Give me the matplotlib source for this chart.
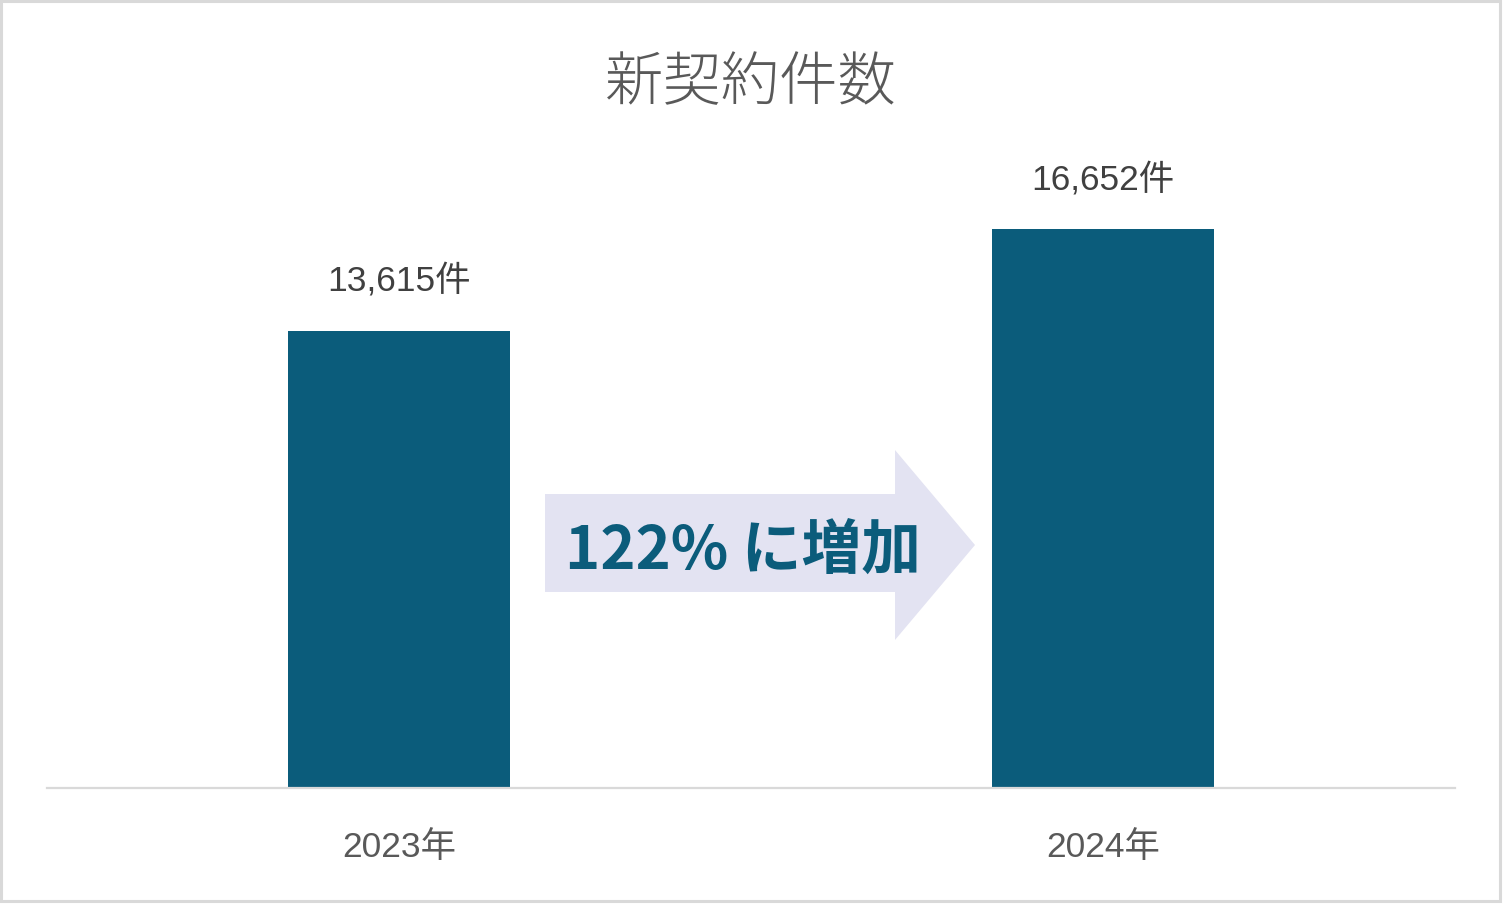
import matplotlib
matplotlib.use("Agg")
import matplotlib.pyplot as plt
from matplotlib.patches import Polygon, Rectangle

categories = ["2023年", "2024年"]
values = [13615, 16652]
value_labels = ["13,615件", "16,652件"]
title = "新契約件数"
callout = "122% に増加"

W, H = 1503, 914
fig = plt.figure(figsize=(W / 100, H / 100), dpi=100)
fig.patch.set_facecolor("white")

def fx(px):
    return px / W

def fy(py):
    return 1 - py / H

ax = fig.add_axes([fx(47), fy(788), fx(1455) - fx(47), fy(140) - fy(788)])
ymax = 648 / (457 / 13615)
ax.set_xlim(-0.5, 1.5)
ax.set_ylim(0, ymax)
x = range(len(categories))
ax.bar(x, values, width=0.314, color="#0B5C7B", zorder=2)
for s in ["top", "right", "left"]:
    ax.spines[s].set_visible(False)
ax.spines["bottom"].set_color("#D9D9D9")
ax.spines["bottom"].set_linewidth(1.6)
ax.set_yticks([])
ax.set_xticks(list(x))
ax.set_xticklabels(categories, family=["Liberation Sans", "Noto Sans CJK JP"],
                   fontsize=25.5, color="#595959")
ax.tick_params(axis="x", length=0, pad=31)
ax.patch.set_alpha(0)

for xi, v, lab in zip(x, values, value_labels):
    ax.annotate(lab, (xi, v), xytext=(0, 50), textcoords="offset pixels",
                ha="center", va="center", fontsize=25.5, color="#404040",
                family=["Liberation Sans", "Noto Sans CJK JP"])

fig.text(fx(751), fy(84), title, ha="center", va="center", fontsize=42,
         color="#595959", family=["Noto Sans CJK JP"], fontweight="light")

# arrow callout
pts = [(545, 494), (895, 494), (895, 450), (975, 545), (895, 640), (895, 592), (545, 592)]
arrow = Polygon([(fx(px), fy(py)) for px, py in pts], closed=True,
                transform=fig.transFigure, facecolor="#E3E3F2", edgecolor="none", zorder=3)
fig.add_artist(arrow)
fig.text(fx(743), fy(552), callout, ha="center", va="center", fontsize=43,
         color="#0B5C7B", family=["Noto Sans CJK JP"], fontweight="bold", zorder=4)

# frame
frame = Rectangle((fx(1), fy(901)), fx(1500) - fx(1), fy(1) - fy(901),
                  transform=fig.transFigure, facecolor="none", edgecolor="#D9D9D9",
                  linewidth=2.2)
fig.add_artist(frame)

fig.savefig("out.png", dpi=100)
